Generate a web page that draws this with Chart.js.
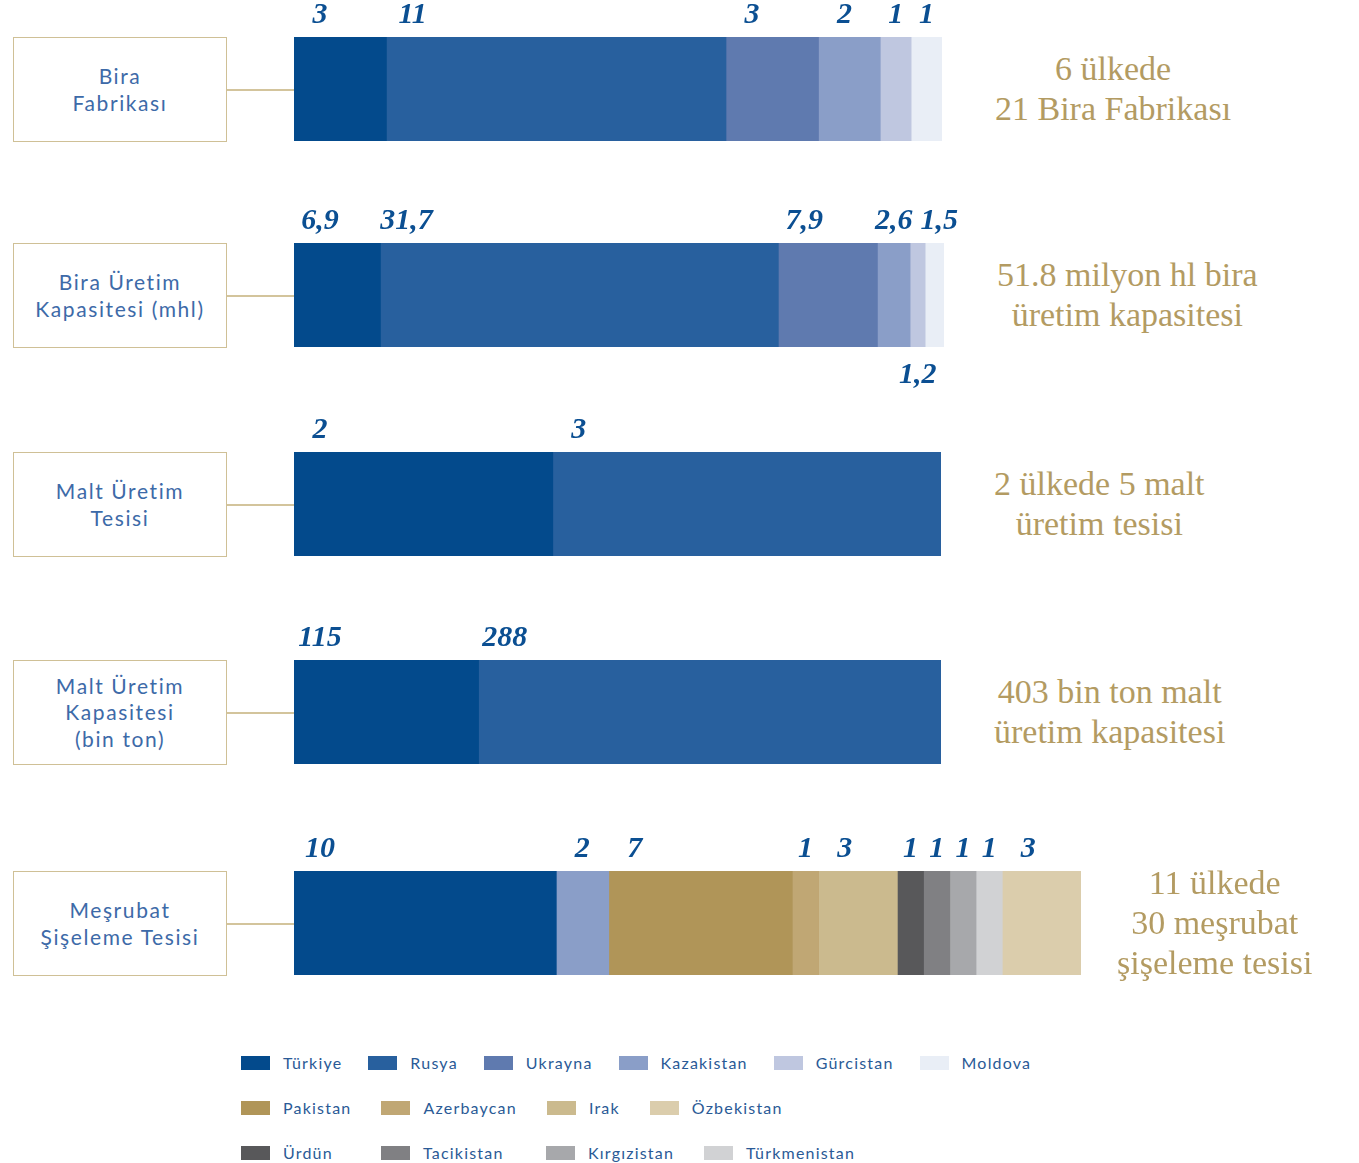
<!DOCTYPE html>
<html lang="tr">
<head>
<meta charset="utf-8">
<script src="https://cdn.jsdelivr.net/npm/chart.js@4.4.1/dist/chart.umd.min.js"></script>
<style>
  html, body { margin: 0; padding: 0; background: #fff; }
  #sayfa { position: relative; width: 1359px; height: 1163px; overflow: hidden; }
  .kutu {
    position: absolute; left: 13px; width: 212px; height: 103px;
    border: 1.5px solid #cfc096; box-sizing: content-box;
    display: flex; align-items: center; justify-content: center; text-align: center;
    font-family: Lato, sans-serif; font-size: 21px; line-height: 26.5px; letter-spacing: 1.6px;
    color: #3d6aa8; white-space: pre-line;
  }
  .cizgi { position: absolute; left: 227px; height: 1.5px; background: #d3c49c; }
  .ozet {
    position: absolute; display: flex; align-items: center; height: 104px;
    font-family: "Liberation Serif", serif; font-size: 34px; line-height: 40px;
    color: #b39b62; text-align: center; white-space: pre-line;
  }
  canvas.bar { position: absolute; }
  #lejant { position: absolute; left: 241px; top: 1040px; font-family: Lato, sans-serif; font-size: 16px; letter-spacing: 1.2px; color: #2a5a96; }
  .lsatir { display: flex; height: 45px; align-items: center; }
  .loge { display: flex; align-items: center; margin-right: 26px; }
  .lsatir.alt .loge { margin-right: 30px; }
  .lkare { width: 29px; height: 14px; margin-right: 13px; }
</style>
</head>
<body>
<div id="sayfa"></div>
<script>
(function(){
    const ulkeler = ['Türkiye','Rusya','Ukrayna','Kazakistan','Gürcistan','Moldova','Pakistan','Azerbaycan','Irak','Özbekistan','Ürdün','Tacikistan','Kırgızistan','Türkmenistan'];
    const renkler = ['#034a8c','#28609e','#5f7aaf','#8a9ec8','#bfc7e0','#e9eef6','#b09558','#c0a774','#cbba8e','#dbcdac','#58585a','#808083','#a7a8ab','#d1d2d4'];

    const basliklar = ['Bira\nFabrikası','Bira Üretim\nKapasitesi (mhl)','Malt Üretim\nTesisi','Malt Üretim\nKapasitesi\n(bin ton)','Meşrubat\nŞişeleme Tesisi'];
    const ozetler = ['6 ülkede\n21 Bira Fabrikası','51.8 milyon hl bira\nüretim kapasitesi','2 ülkede 5 malt\nüretim tesisi','403 bin ton malt\nüretim kapasitesi','11 ülkede\n30 meşrubat\nşişeleme tesisi'];

    const biraUlkeler = ['Türkiye','Rusya','Ukrayna','Kazakistan','Gürcistan','Moldova'];
    const biraFabrikasi = [3, 11, 3, 2, 1, 1];
    const biraKapasite = [6.9, 31.7, 7.9, 2.6, 1.2, 1.5];
    const maltUlkeler = ['Türkiye','Rusya'];
    const maltTesisi = [2, 3];
    const maltKapasite = [115, 288];
    const mesrubatUlkeler = ['Türkiye','Kazakistan','Pakistan','Azerbaycan','Irak','Ürdün','Tacikistan','Kırgızistan','Türkmenistan','Özbekistan'];
    const mesrubatTesisi = [10, 2, 7, 1, 3, 1, 1, 1, 1, 3];

    const satirlar = [
        [biraUlkeler, biraFabrikasi],
        [biraUlkeler, biraKapasite],
        [maltUlkeler, maltTesisi],
        [maltUlkeler, maltKapasite],
        [mesrubatUlkeler, mesrubatTesisi]
    ];

    // yerlesim
    const barSol = 294;
    const barUst = [37, 243, 452, 660, 871];
    const barGen = [648, 650, 647, 647, 787];
    const barYuk = 104;
    const PAY = 45;

    const sayfa = document.getElementById('sayfa');

    const etiketler = {
        id: 'etiketler',
        afterDatasetsDraw(chart) {
            const ctx = chart.ctx;
            let sonSag = -Infinity;
            ctx.save();
            ctx.font = 'italic bold 30px "Liberation Serif", serif';
            ctx.fillStyle = '#0b4f92';
            ctx.textBaseline = 'middle';
            ctx.textAlign = 'left';
            chart.data.datasets.forEach((ds, i) => {
                const el = chart.getDatasetMeta(i).data[0];
                const sol = Math.min(el.x, el.base);
                const gen = Math.abs(el.x - el.base);
                const yazi = String(ds.data[0]).replace('.', ',');
                const tw = ctx.measureText(yazi).width;
                if (gen < 17) {
                    ctx.fillText(yazi, sol + gen / 2 - tw / 2, el.y + el.height / 2 + 28);
                    return;
                }
                let x0 = sol + Math.min(26, gen / 2) - tw / 2;
                if (x0 < sonSag + 8) x0 = sonSag + 8;
                ctx.fillText(yazi, x0, el.y - el.height / 2 - 22);
                sonSag = x0 + tw;
            });
            ctx.restore();
        }
    };

    satirlar.forEach(([adlar, degerler], s) => {
        const kutu = document.createElement('div');
        kutu.className = 'kutu';
        kutu.style.top = barUst[s] + 'px';
        kutu.textContent = basliklar[s];
        sayfa.appendChild(kutu);

        const cizgi = document.createElement('div');
        cizgi.className = 'cizgi';
        cizgi.style.top = (barUst[s] + barYuk / 2) + 'px';
        cizgi.style.width = (barSol - 227) + 'px';
        sayfa.appendChild(cizgi);

        const cv = document.createElement('canvas');
        cv.className = 'bar';
        cv.width = barGen[s] + PAY * 2;
        cv.height = barYuk + PAY * 2;
        cv.style.left = (barSol - PAY) + 'px';
        cv.style.top = (barUst[s] - PAY) + 'px';
        sayfa.appendChild(cv);

        const toplam = degerler.reduce((a, b) => a + b, 0);

        new Chart(cv, {
            type: 'bar',
            data: {
                labels: [basliklar[s]],
                datasets: adlar.map((ad, i) => ({
                    label: ad,
                    data: [degerler[i]],
                    backgroundColor: renkler[ulkeler.indexOf(ad)],
                    borderWidth: 0,
                    barPercentage: 1,
                    categoryPercentage: 1
                }))
            },
            options: {
                indexAxis: 'y',
                responsive: false,
                animation: false,
                layout: { padding: PAY },
                scales: {
                    x: { stacked: true, min: 0, max: toplam, display: false },
                    y: { stacked: true, display: false }
                },
                plugins: {
                    legend: { display: false },
                    tooltip: { enabled: false }
                }
            },
            plugins: [etiketler]
        });

        const ozet = document.createElement('div');
        ozet.className = 'ozet';
        ozet.style.top = barUst[s] + 'px';
        ozet.textContent = ozetler[s];
        sayfa.appendChild(ozet);
        let sol = barSol + barGen[s] + (s === 4 ? 36 : 53);
        sol = Math.min(sol, 1355 - ozet.offsetWidth);
        ozet.style.left = sol + 'px';
    });

    // lejant
    const lejant = document.createElement('div');
    lejant.id = 'lejant';
    sayfa.appendChild(lejant);
    const gruplar = [ulkeler.slice(0, 6), ulkeler.slice(6, 10), ulkeler.slice(10, 14)];
    const satirDiv = gruplar.map((grup, g) => {
        const sd = document.createElement('div');
        sd.className = g === 0 ? 'lsatir' : 'lsatir alt';
        grup.forEach(ad => {
            const o = document.createElement('div');
            o.className = 'loge';
            const k = document.createElement('div');
            k.className = 'lkare';
            k.style.background = renkler[ulkeler.indexOf(ad)];
            const t = document.createElement('span');
            t.textContent = ad;
            o.appendChild(k);
            o.appendChild(t);
            sd.appendChild(o);
        });
        lejant.appendChild(sd);
        return sd;
    });
    // ucuncu satir, ikinci satirin ilk iki sutununa hizali
    for (let i = 0; i < 2; i++) {
        satirDiv[2].children[i].style.minWidth = satirDiv[1].children[i].offsetWidth + 'px';
    }
})();
</script>
</body>
</html>
